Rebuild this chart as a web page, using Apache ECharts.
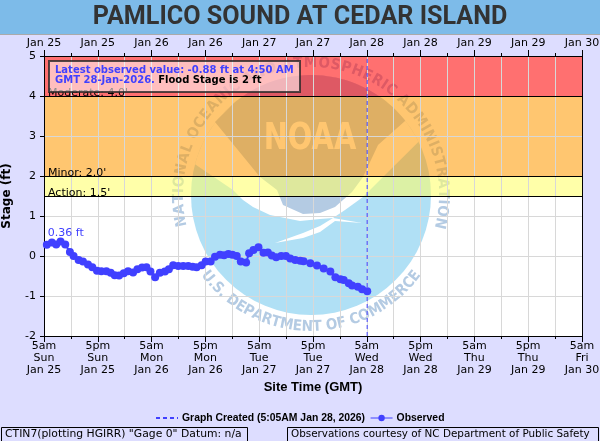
<!DOCTYPE html>
<html><head><meta charset="utf-8">
<style>html,body{margin:0;padding:0;background:#ddddff}#c{width:600px;height:441px}</style>
<script src="https://cdn.jsdelivr.net/npm/echarts@6/dist/echarts.min.js"></script>
</head><body><div id="c"></div>
<script>
const chartTitle = "PAMLICO SOUND AT CEDAR ISLAND";
const topLabels = ["Jan 25","Jan 25","Jan 26","Jan 26","Jan 27","Jan 27","Jan 28","Jan 28","Jan 29","Jan 29","Jan 30"];
const tickTimes = ["5am","5pm","5am","5pm","5am","5pm","5am","5pm","5am","5pm","5am"];
const tickDays = ["Sun","Sun","Mon","Mon","Tue","Tue","Wed","Wed","Thu","Thu","Fri"];
const tickDates = topLabels;
// hours since 5am Jan 25
const obsHours = [0.63,1.75,2.72,3.69,4.74,5.78,6.6,7.72,8.69,9.81,10.78,11.82,12.79,13.91,14.88,15.77,16.74,17.79,18.75,19.87,20.84,21.88,22.86,23.75,24.79,25.84,26.96,27.85,28.82,29.94,31.06,32.18,33.15,34.04,35.16,36.06,37.17,38.14,39.26,40.16,41.12,42.02,42.99,43.89,45.08,45.75,46.72,47.84,48.96,49.93,50.82,51.79,52.91,53.96,54.92,56.04,57.16,57.9,59.4,60.89,62.38,63.87,64.99,66.11,66.85,67.97,68.72,69.99,70.95,72.1];
const obsStage = [0.28,0.34,0.29,0.36,0.29,0.10,0,-0.10,-0.14,-0.21,-0.28,-0.37,-0.38,-0.38,-0.42,-0.48,-0.49,-0.43,-0.38,-0.41,-0.33,-0.29,-0.28,-0.39,-0.53,-0.42,-0.39,-0.33,-0.23,-0.25,-0.25,-0.25,-0.27,-0.28,-0.23,-0.14,-0.14,-0.02,0.03,0.02,0.05,0.03,0,-0.14,-0.16,0.07,0.15,0.22,0.08,0.09,0.01,-0.03,0,0,-0.06,-0.10,-0.12,-0.13,-0.18,-0.24,-0.31,-0.39,-0.53,-0.58,-0.60,-0.68,-0.74,-0.77,-0.83,-0.88];
const createdHour = 72.08;
const createdName = "Graph Created (5:05AM Jan 28, 2026)";
const obsName = "Observed";
const bandRanges = [[4,5],[2,4],[1.5,2]];
const bandColors = ["rgba(255,0,0,0.56)","rgba(255,153,0,0.56)","rgba(255,255,102,0.56)"];
const stageLines = [4,2,1.5];
const stageNames = ["Moderate: 4.0'","Minor: 2.0'","Action: 1.5'"];
const peakLabel = "0.36 ft";
const ringTop = "NATIONAL OCEANIC AND ATMOSPHERIC ADMINISTRATION";
const ringBottom = "U.S. DEPARTMENT OF COMMERCE";
const leftNote = 'CTIN7(plotting HGIRR) "Gage 0" Datum: n/a';
const rightNote = "Observations courtesy of NC Department of Public Safety";
const noteLine1 = "Latest observed value: -0.88 ft at 4:50 AM";
const noteLine2a = "GMT 28-Jan-2026.";
const noteLine2b = "Flood Stage is 2 ft";

const BLUE = "#4040ff";
const FONT = "'DejaVu Sans'";
const cx = 311, cy = 195, R = 120;
const skyCol = "#b4cbe3", seaCol = "#b0e0f5";

function ring(text, font, r, a0, a1, outward) {
  const ctx = document.createElement("canvas").getContext("2d");
  ctx.font = font;
  const ws = [...text].map(c => ctx.measureText(c).width);
  const tot = ws.reduce((a,b)=>a+b,0);
  let acc = 0; const out = [];
  [...text].forEach((c,i) => {
    const f = (acc + ws[i]/2)/tot; acc += ws[i];
    const a = (a0 + (a1-a0)*f) * Math.PI/180;
    out.push({type:"text", z:1, x:cx+r*Math.cos(a), y:cy+r*Math.sin(a),
      rotation: outward ? -(a-Math.PI/2) : -(a+Math.PI/2),
      style:{text:c, font, fill:skyCol, align:"center", verticalAlign:"middle"}});
  });
  return out;
}
function arcPts(p0, p1) {
  let a0 = Math.atan2(p0[1]-cy,p0[0]-cx), a1 = Math.atan2(p1[1]-cy,p1[0]-cx);
  let d = a1-a0; while(d>Math.PI)d-=2*Math.PI; while(d<-Math.PI)d+=2*Math.PI;
  const pts=[]; for(let i=0;i<=40;i++){const a=a0+d*i/40; pts.push([cx+R*Math.cos(a),cy+R*Math.sin(a)]);}
  return pts;
}
const ringFont = "bold 15px 'DejaVu Sans Condensed','DejaVu Sans'";
const logo = [
  {type:"circle", z:1, shape:{cx,cy,r:R}, style:{fill:seaCol}},
  {type:"polygon", z:1, shape:{points:[[233,190],[243,200],[253,207],[270,215],[300,221],[320,219],[333,218],[345,210],[363,197],[383,177],...arcPts([418,142],[198,165])]}, style:{fill:"#fff"}},
  {type:"polygon", z:1, shape:{points:[[215,122],...arcPts([233,104],[405,121]),[378,145],[363,177],[352,192],[335,207],[320,213],[303,214],[283,205],[277,190],[260,177]]}, style:{fill:skyCol}},
  {type:"polygon", z:1, shape:{points:[[275,243],[303,233],[320,226],[333,218],[362,223],[335,221],[320,232],[303,238]]}, style:{fill:"#fff"}},
  {type:"text", z:1, x:310, y:139, scaleX:0.76, style:{text:"NOAA", font:"bold 38px 'DejaVu Sans'", fill:"#fff", align:"center", verticalAlign:"middle"}},
  ...ring(ringTop, ringFont, 132, 166, 375, false),
  ...ring(ringBottom, ringFont, 132, 144, 36, true)
];

const chrome = [
  {type:"rect", z:0, shape:{x:0,y:0,width:600,height:34}, style:{fill:"#7dbbe9"}},
  {type:"rect", z:0, shape:{x:0,y:34,width:600,height:1}, style:{fill:"#aaaaaa"}},
  {type:"text", z:9, x:300, y:17, scaleX:0.967, style:{text:chartTitle, font:"bold 26px Roboto", fill:"#333", align:"center", verticalAlign:"middle"}},
  {type:"rect", z:9, shape:{x:49,y:61,width:251,height:31}, style:{fill:"rgba(255,255,255,0.55)", stroke:"rgba(40,40,40,0.8)", lineWidth:2}},
  {type:"text", z:10, x:55, y:70, style:{text:noteLine1, font:"bold 10px "+FONT, fill:BLUE, align:"left", verticalAlign:"middle"}},
  {type:"text", z:10, x:55, y:80, style:{text:`{a|${noteLine2a}} {b|${noteLine2b}}`, align:"left", verticalAlign:"middle",
    rich:{a:{font:"bold 10px "+FONT, fill:BLUE},b:{font:"bold 10px "+FONT, fill:"#000"}}}},
  {type:"rect", z:9, shape:{x:1.5,y:427.5,width:246,height:20}, style:{fill:"none", stroke:"#000", lineWidth:1}},
  {type:"rect", z:9, shape:{x:287.5,y:427.5,width:311,height:20}, style:{fill:"none", stroke:"#000", lineWidth:1}},
  {type:"text", z:10, x:5, y:434.5, style:{text:leftNote, font:"10.8px "+FONT, fill:"#000", align:"left", verticalAlign:"middle"}},
  {type:"text", z:10, x:291, y:434.5, style:{text:rightNote, font:"10.4px "+FONT, fill:"#000", align:"left", verticalAlign:"middle"}}
];

const obsData = obsHours.map((h,i)=>[h,obsStage[i]]);
const peak = 0;
const xCommon = {type:"value", min:0, max:120, interval:12, z:3,
  axisLine:{show:true,onZero:false,lineStyle:{color:"#000",width:1}},
  axisTick:{show:true,length:6,lineStyle:{color:"#000"}},
  minorTick:{show:true,splitNumber:2,length:3,lineStyle:{color:"#000"}},
  minorSplitLine:{show:true,lineStyle:{color:"#d8d8d8",width:1}},
  splitLine:{show:true,lineStyle:{color:"#d8d8d8",width:1}}};

const chart = echarts.init(document.getElementById("c"), null, {renderer:"canvas"});
chart.setOption({
  animation:false,
  backgroundColor:"#ddddff",
  textStyle:{fontFamily:FONT},
  grid:{show:true, left:44, right:18, top:56, bottom:105, backgroundColor:"#fff", borderWidth:0, z:0, outerBoundsMode:"none"},
  graphic:{elements:[...chrome,...logo]},
  legend:{left:155, top:413, z:9, itemWidth:22, itemHeight:8, itemGap:5, padding:0,
    data:[{name:createdName,itemStyle:{opacity:0}},{name:obsName,lineStyle:{width:1}}],
    textStyle:{fontFamily:"'Liberation Sans'",fontWeight:"bold",fontSize:10.4,color:"#000",padding:[0,0,0,-1]}},
  xAxis:[
    {...xCommon, position:"bottom", name:"Site Time (GMT)", nameLocation:"middle", nameGap:44,
     nameTextStyle:{fontFamily:"'Liberation Sans'",fontWeight:"bold",fontSize:13,color:"#000"},
     axisLabel:{color:"#000",fontSize:11,lineHeight:12,margin:4,hideOverlap:false,showMinLabel:true,showMaxLabel:true,
       formatter:v=>{const i=v/12;return [tickTimes[i],tickDays[i],tickDates[i]].join("\n");}}},
    {...xCommon, position:"top", splitLine:{show:false}, minorSplitLine:{show:false},
     axisLabel:{color:"#000",fontSize:11,margin:7,hideOverlap:false,showMinLabel:true,showMaxLabel:true,formatter:v=>topLabels[v/12]}}
  ],
  yAxis:[
    {type:"value", min:-2, max:5, interval:1, z:3, name:"Stage (ft)", nameLocation:"middle", nameGap:31,
     nameTextStyle:{fontFamily:"'DejaVu Sans'",fontWeight:"bold",fontSize:12,color:"#000"},
     axisLine:{show:true,onZero:false,lineStyle:{color:"#000"}},
     axisTick:{show:true,length:4,lineStyle:{color:"#000"}},
     axisLabel:{color:"#000",fontSize:11,margin:8},
     splitLine:{show:true,lineStyle:{color:"#d8d8d8",width:1}}},
    {type:"value", position:"right", min:-2, max:5, interval:1, z:3,
     axisLine:{show:true,onZero:false,lineStyle:{color:"#000"}}, axisTick:{show:false}, axisLabel:{show:false}, splitLine:{show:false}}
  ],
  series:[
    {type:"line", name:"Stage bands", data:[], silent:true,
     markArea:{silent:true, z:2, data:bandRanges.map((r,i)=>[{yAxis:r[0],itemStyle:{color:bandColors[i]}},{yAxis:r[1]}])},
     markLine:{silent:true, z:4, symbol:"none", animation:false,
       lineStyle:{color:"#000",width:1,type:"solid"},
       label:{show:true,position:"insideStartTop",distance:[4,-3],color:"#000",fontSize:11,fontFamily:FONT,formatter:p=>p.name},
       data:stageLines.map((v,i)=>({yAxis:v,name:stageNames[i]}))}},
    {type:"line", name:createdName, z:5, showSymbol:false, symbol:"none", data:[[createdHour,-2],[createdHour,5]],
     lineStyle:{color:BLUE,width:1,type:[4,3]}, itemStyle:{color:BLUE}},
    {type:"line", name:obsName, z:6, symbol:"circle", symbolSize:8, showSymbol:true, clip:false, showAllSymbol:true,
     lineStyle:{color:BLUE,width:2}, itemStyle:{color:BLUE},
     data:obsData.map((d,i)=> i===peak ? {value:d,label:{show:true,position:[5,-13],align:"left",formatter:peakLabel,color:BLUE,fontSize:11,fontFamily:FONT}} : d)}
  ]
});
</script></body></html>
